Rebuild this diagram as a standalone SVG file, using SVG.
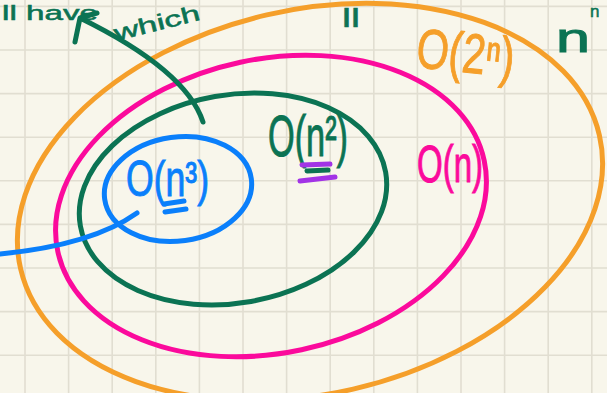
<svg xmlns="http://www.w3.org/2000/svg" width="607" height="393" viewBox="0 0 607 393">
<style>
.grid line{stroke:#e1ded1;stroke-width:1.6}
ellipse.ring{fill:none;stroke-width:5}
path.ink{fill:none;stroke-width:5;stroke-linecap:round;stroke-linejoin:round}
.hand{font-family:"Liberation Sans",Arial,sans-serif;font-weight:normal;stroke-width:1}
.small{stroke-width:0.5}
.green{stroke:#0b7353;fill:#0b7353}
.orange{stroke:#f59f2a;fill:#f59f2a}
.pink{stroke:#fb0a9c;fill:#fb0a9c}
.blue{stroke:#0a7ffb;fill:#0a7ffb}
.purple{stroke:#a233e6;fill:#a233e6}
</style>
<rect width="607" height="393" fill="#f8f6eb"/>
<g class="grid">
<line x1="25" y1="0" x2="25" y2="393"/><line x1="68.6" y1="0" x2="68.6" y2="393"/><line x1="112.2" y1="0" x2="112.2" y2="393"/><line x1="155.8" y1="0" x2="155.8" y2="393"/><line x1="199.4" y1="0" x2="199.4" y2="393"/><line x1="243" y1="0" x2="243" y2="393"/><line x1="286.6" y1="0" x2="286.6" y2="393"/><line x1="330.2" y1="0" x2="330.2" y2="393"/><line x1="373.8" y1="0" x2="373.8" y2="393"/><line x1="417.4" y1="0" x2="417.4" y2="393"/><line x1="461" y1="0" x2="461" y2="393"/><line x1="504.6" y1="0" x2="504.6" y2="393"/><line x1="548.2" y1="0" x2="548.2" y2="393"/><line x1="591.8" y1="0" x2="591.8" y2="393"/>
<line x1="0" y1="6.4" x2="607" y2="6.4"/><line x1="0" y1="50" x2="607" y2="50"/><line x1="0" y1="93.6" x2="607" y2="93.6"/><line x1="0" y1="137.2" x2="607" y2="137.2"/><line x1="0" y1="180.8" x2="607" y2="180.8"/><line x1="0" y1="224.4" x2="607" y2="224.4"/><line x1="0" y1="268" x2="607" y2="268"/><line x1="0" y1="311.6" x2="607" y2="311.6"/><line x1="0" y1="355.2" x2="607" y2="355.2"/>
</g>
<g id="top-notes">
<text class="hand small green" x="2" y="20" font-size="20" textLength="96" lengthAdjust="spacingAndGlyphs">ll have</text>
<text class="hand small green" x="0" y="0" font-size="22" textLength="88" lengthAdjust="spacingAndGlyphs" transform="translate(116,41) rotate(-14)">which</text>
<text class="hand small green" x="342" y="27" font-size="26" textLength="18" lengthAdjust="spacingAndGlyphs">ll</text>
<text class="hand green" x="556" y="52" font-size="40" textLength="34" lengthAdjust="spacingAndGlyphs">n</text>
<text class="hand small green" x="590" y="17" font-size="17">n</text>
</g>
<g id="ring-exp">
<ellipse class="ring orange" cx="310" cy="202" rx="297" ry="192" transform="rotate(-13 310 202)"/>
<text class="hand orange" x="0" y="0" font-size="56" textLength="98" lengthAdjust="spacingAndGlyphs" transform="translate(415,67) rotate(6)">O(2ⁿ)</text>
</g>
<g id="ring-linear">
<ellipse class="ring pink" cx="271" cy="206" rx="218" ry="147" transform="rotate(-12 271 206)"/>
<text class="hand pink" x="417" y="182" font-size="52" textLength="66" lengthAdjust="spacingAndGlyphs">O(n)</text>
</g>
<g id="ring-square">
<ellipse class="ring green" cx="233" cy="199" rx="155" ry="104" transform="rotate(-10 233 199)"/>
<text class="hand green" x="268" y="156" font-size="58" textLength="80" lengthAdjust="spacingAndGlyphs">O(n²)</text>
<path class="ink green" d="M307,171 L328,170" stroke-width="4"/>
<path class="ink purple" d="M302,165 L330,164 M300,181 L335,177"/>
</g>
<g id="ring-cubic">
<ellipse class="ring blue" cx="178" cy="189" rx="74" ry="52" transform="rotate(-8 178 189)"/>
<text class="hand blue" x="126" y="196" font-size="50" textLength="83" lengthAdjust="spacingAndGlyphs">O(n³)</text>
<path class="ink blue" d="M164,204 L184,201 M165,212 L186,209" stroke-width="4.5"/>
</g>
<g id="connectors">
<path class="ink green" d="M203,122 Q186,70 80,18 M75,42 L80,18 L97,13"/>
<path class="ink blue" d="M137,213 Q92,245 0,254"/>
</g>
</svg>
